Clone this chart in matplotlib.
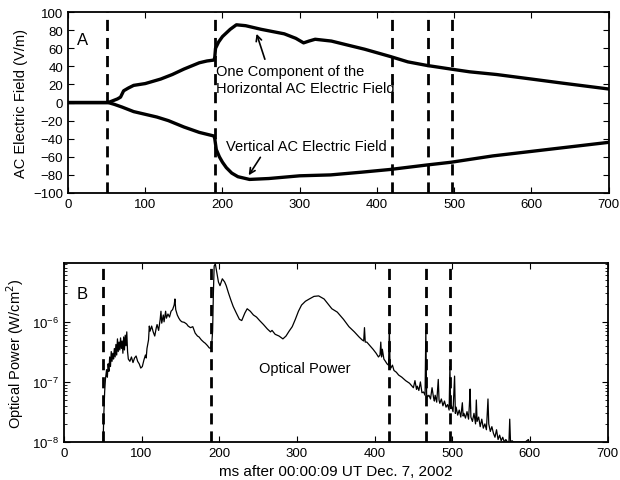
import matplotlib
matplotlib.use("Agg")
import matplotlib.pyplot as plt

plt.rcParams['font.family'] = ['Liberation Sans', 'DejaVu Sans']

# event times (ms) marked by dashed lines
event_t = [51, 190, 419, 466, 497]

# panel A: AC electric field (V/m)
horiz_t = [0, 20, 40, 52, 58, 64, 68, 72, 78, 85, 100, 120, 135, 150, 170, 180, 189,
           190, 191, 195, 200, 210, 218, 230, 250, 280, 295, 305, 312, 320, 341, 360,
           384, 417, 440, 465, 496, 520, 555, 600, 640, 700]
horiz_E = [0, 0, 0, 0, 2, 4, 6, 13, 16, 19, 21, 26, 31, 37, 44, 46, 47,
           50, 60, 67, 73, 81, 86, 85, 81, 76, 71, 66, 68, 70, 68, 64,
           59, 51, 45, 41, 37, 34, 31, 26, 21.5, 15]

vert_t = [0, 20, 40, 52, 60, 70, 85, 100, 115, 130, 150, 170, 189, 190, 192, 196,
          200, 205, 212, 220, 235, 260, 300, 340, 380, 417, 465, 496, 550, 600, 650, 700]
vert_E = [0, 0, 0, 0, -2, -5, -10, -13, -16, -20, -27, -33, -37, -40, -52, -60,
          -66, -72, -78, -82, -85, -84, -81, -80, -77, -74, -69, -66, -59, -54, -49, -44]

# panel B: optical power (W/cm^2)
opt_t = [50.5, 51.5, 52.5, 53.5, 55, 56, 57, 58, 59, 60, 61, 62, 63, 64, 65, 66, 67, 68,
         69, 70, 71, 72, 73, 74, 75, 76, 77, 78, 79, 80, 81, 82, 83, 85, 87, 89, 91, 93,
         95, 97, 99, 101, 103, 105, 106, 107, 109, 110, 111, 113, 115, 117, 119, 120,
         122, 124, 125, 126, 128, 129, 131, 132, 134, 136, 138, 140, 142, 143, 144, 146,
         148, 150, 152, 155, 158, 160, 163, 166, 169, 172, 174, 177, 180, 182, 185, 187,
         189, 190.5, 191.5, 192.5, 193.5, 195, 197, 199, 201, 204, 207, 209, 212, 215,
         218, 222, 226, 229, 233, 236, 240, 244, 248, 252, 257, 262, 266, 268, 272, 277,
         282, 286, 290, 294, 298, 302, 306, 311, 316, 322, 328, 335, 345, 352, 360, 367,
         374, 380, 384, 386, 387, 388, 390, 394, 398, 402, 405, 407, 408, 409, 410, 412,
         414, 416, 418, 419, 420, 421, 423, 425, 428, 431, 435, 440, 445, 450, 452, 454,
         455, 457, 459, 461, 463, 465, 466, 467, 468, 470, 472, 474, 476, 477, 478, 480,
         482, 483, 484, 486, 488, 490, 492, 494, 496, 497, 498, 499, 501, 503, 504, 505,
         507, 509, 511, 513, 514, 515, 517, 519, 521, 522, 523, 524, 526, 528, 530, 531,
         532, 534, 536, 538, 540, 542, 544, 545, 546, 547, 549, 551, 553, 555, 557, 559,
         561, 563, 565, 567, 569, 571, 573, 574, 575, 577, 579, 582, 586, 590, 594, 598,
         599, 602]
opt_p = [1.0e-8, 3.0e-8, 6.8e-8, 1.1e-7, 1.6e-7, 1.2e-7, 2.0e-7, 1.5e-7, 2.6e-7, 1.8e-7,
         3.2e-7, 2.2e-7, 3.0e-7, 2.4e-7, 3.6e-7, 2.6e-7, 4.2e-7, 2.8e-7,
         5.2e-7, 3.2e-7, 4.6e-7, 3.4e-7, 5.4e-7, 3.6e-7, 4.8e-7, 3.0e-7, 5.6e-7, 3.4e-7,
         6.0e-7, 4.0e-7, 6.8e-7, 3.2e-7, 2.4e-7, 2.2e-7, 2.6e-7, 2.1e-7, 2.5e-7, 2.7e-7,
         2.2e-7, 2.0e-7, 1.7e-7, 1.8e-7, 2.3e-7, 2.8e-7, 2.5e-7, 3.6e-7, 5.0e-7, 8.5e-7,
         7.0e-7, 8.5e-7, 6.8e-7, 5.8e-7, 8.0e-7, 9.0e-7,
         7.2e-7, 1.1e-6, 1.5e-6, 9.5e-7, 1.3e-6, 1.0e-6, 1.5e-6, 1.15e-6, 1.35e-6, 1.2e-6,
         1.5e-6, 1.6e-6, 1.9e-6, 2.4e-6, 1.6e-6, 1.3e-6,
         1.15e-6, 1.05e-6, 1.0e-6, 9.8e-7, 9.2e-7, 8.5e-7, 8.0e-7, 8.3e-7, 6.5e-7, 5.8e-7,
         5.6e-7, 5.0e-7, 4.6e-7, 4.4e-7, 4.0e-7, 3.7e-7,
         3.6e-7, 4.5e-7, 7.0e-7, 3.0e-6, 8.5e-6, 9.2e-6, 6.5e-6, 4.6e-6, 4.0e-6, 5.2e-6,
         4.6e-6, 4.0e-6, 3.0e-6, 2.3e-6,
         1.8e-6, 1.4e-6, 1.1e-6, 1.05e-6, 1.4e-6, 1.65e-6, 1.5e-6, 1.3e-6, 1.2e-6, 1.05e-6,
         9.0e-7, 7.6e-7, 6.8e-7, 7.2e-7, 6.2e-7, 5.8e-7,
         5.2e-7, 5.8e-7, 7.0e-7, 8.3e-7, 1.1e-6, 1.5e-6, 1.9e-6, 2.2e-6, 2.4e-6, 2.65e-6,
         2.7e-6, 2.4e-6, 1.65e-6, 1.45e-6, 1.1e-6, 8.3e-7,
         6.8e-7, 5.6e-7, 5.0e-7, 4.8e-7, 8.0e-7, 4.6e-7, 4.6e-7, 4.0e-7, 3.5e-7, 3.0e-7,
         2.6e-7, 2.8e-7, 4.6e-7, 2.6e-7, 3.5e-7, 2.4e-7,
         2.2e-7, 2.0e-7, 1.9e-7, 7.6e-7, 1.8e-7, 1.7e-7, 1.9e-7, 1.55e-7, 1.45e-7, 1.3e-7,
         1.2e-7, 1.05e-7, 9.5e-8, 8.0e-8, 1.05e-7, 7.5e-8,
         8.5e-8, 7.2e-8, 1.0e-7, 6.6e-8, 6.8e-8, 6.0e-8, 7.2e-7, 6.2e-8, 5.6e-8, 6.0e-8,
         5.2e-8, 8.0e-8, 5.4e-8, 4.8e-8, 6.0e-8, 4.6e-8,
         1.1e-7, 5.0e-8, 4.4e-8, 5.2e-8, 4.0e-8, 4.8e-8, 3.8e-8, 4.2e-8, 3.4e-8, 1.8e-7,
         3.6e-8, 4.0e-8, 3.2e-8, 1.25e-7, 3.0e-8, 3.8e-8,
         2.8e-8, 3.4e-8, 2.6e-8, 4.5e-8, 2.7e-8, 3.0e-8, 2.5e-8, 3.2e-8, 2.4e-8, 4.0e-8,
         7.6e-8, 2.6e-8, 2.2e-8, 3.0e-8, 2.0e-8, 5.0e-8,
         2.2e-8, 2.6e-8, 1.8e-8, 2.4e-8, 1.7e-8, 2.0e-8, 1.6e-8, 3.0e-8, 5.2e-8, 2.0e-8,
         1.5e-8, 1.8e-8, 1.4e-8, 1.2e-8, 1.6e-8, 1.1e-8,
         1.3e-8, 1.05e-8, 1.2e-8, 1.0e-8, 1.1e-8, 1.0e-8, 1.0e-8, 2.4e-8, 1.0e-8, 1.05e-8,
         1.0e-8, 1.0e-8, 1.0e-8, 1.0e-8, 1.0e-8, 1.1e-8,
         1.0e-8, 1.0e-8]

fig = plt.figure(figsize=(6.2, 4.81), dpi=100)
axA = fig.add_axes([0.1097, 0.5967, 0.872, 0.376])
axB = fig.add_axes([0.103, 0.079, 0.877, 0.372])

# --- panel A ---
axA.plot(horiz_t, horiz_E, color='black', lw=2.4)
axA.plot(vert_t, vert_E, color='black', lw=2.4)
for t in event_t:
    axA.axvline(t, color='black', lw=2, dashes=(4, 2.5))
axA.set_xlim(0, 700)
axA.set_ylim(-100, 100)
axA.set_yticks(range(-100, 101, 20))
axA.set_xticks(range(0, 701, 100))
axA.set_ylabel('AC Electric Field (V/m)', fontsize=10.5)
axA.text(19, 70, 'A', fontsize=12, va='center', ha='center')
axA.text(191, 35, 'One Component of the', fontsize=10.5, va='center')
axA.text(191, 16, 'Horizontal AC Electric Field', fontsize=10.5, va='center')
axA.text(204, -48, 'Vertical AC Electric Field', fontsize=10.5, va='center')
axA.annotate('', xy=(243, 79), xytext=(256, 45),
             arrowprops=dict(arrowstyle='->', color='black', lw=1.2))
axA.annotate('', xy=(232, -83), xytext=(251, -58),
             arrowprops=dict(arrowstyle='->', color='black', lw=1.2))

# --- panel B ---
axB.plot(opt_t, opt_p, color='black', lw=0.9)
for t in event_t:
    axB.axvline(t, color='black', lw=2, dashes=(4, 2.5))
axB.set_yscale('log')
axB.set_xlim(0, 700)
axB.set_ylim(1e-8, 9.5e-6)
axB.set_xticks(range(0, 701, 100))
axB.set_yticks([1e-8, 1e-7, 1e-6])
axB.set_ylabel('Optical Power (W/cm$^2$)', fontsize=10.5)
axB.set_xlabel('ms after 00:00:09 UT Dec. 7, 2002', fontsize=11)
axB.text(23, 3.0e-6, 'B', fontsize=12, va='center', ha='center')
axB.text(251, 1.7e-7, 'Optical Power', fontsize=10.5, va='center')

for ax in (axA, axB):
    ax.tick_params(which='both', direction='in', top=True, right=True, labelsize=9.5)
    ax.tick_params(which='major', length=4)
    ax.tick_params(which='minor', length=2)
    for s in ax.spines.values():
        s.set_linewidth(1.3)

fig.savefig('out.png', dpi=100)
